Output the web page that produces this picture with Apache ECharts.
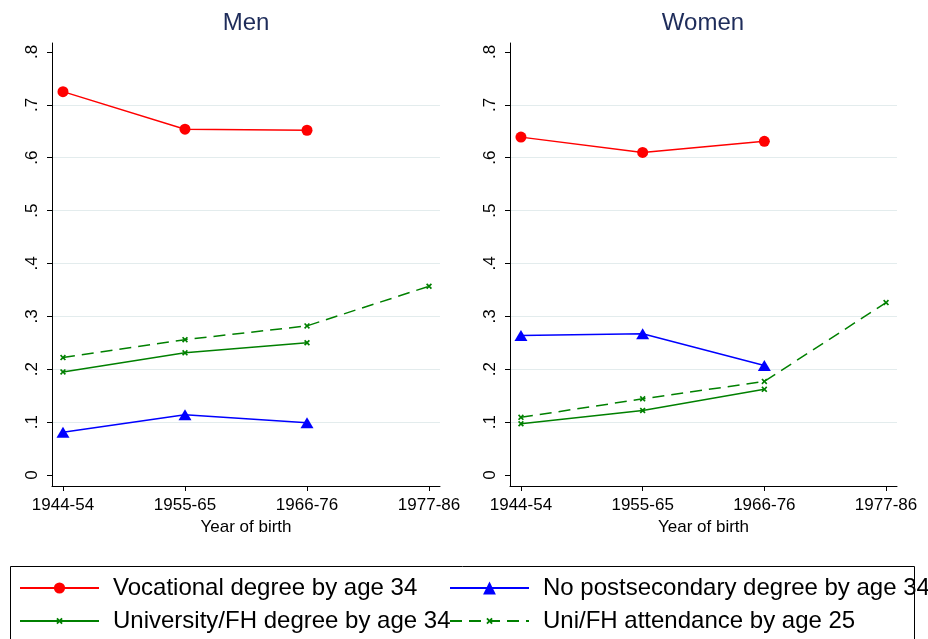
<!DOCTYPE html>
<html>
<head>
<meta charset="utf-8">
<script src="https://cdn.jsdelivr.net/npm/echarts@6/dist/echarts.min.js"></script>
<style>
html,body{margin:0;padding:0;background:#fff;}
#chart{width:928px;height:639px;}
</style>
</head>
<body>
<div id="chart"></div>
<script>
// ---- data ----
const categories = ['1944-54', '1955-65', '1966-76', '1977-86'];
const seriesNames = ['Vocational degree by age 34', 'No postsecondary degree by age 34', 'University/FH degree by age 34', 'Uni/FH attendance by age 25'];
const panelTitles = ['Men', 'Women'];
const xTitle = 'Year of birth';

const menVocational = [0.725, 0.654, 0.652];
const menNoPostsec = [0.081, 0.114, 0.099];
const menUniDegree = [0.195, 0.231, 0.250];
const menUniAttend = [0.222, 0.256, 0.282, 0.357];

const womenVocational = [0.639, 0.610, 0.631];
const womenNoPostsec = [0.264, 0.267, 0.207];
const womenUniDegree = [0.097, 0.122, 0.162];
const womenUniAttend = [0.109, 0.144, 0.177, 0.326];

const xTickValues = [0, 1, 2, 3];
const yTickValues = [0, 0.1, 0.2, 0.3, 0.4, 0.5, 0.6, 0.7, 0.8];
const yGridValues = [0.1, 0.2, 0.3, 0.4, 0.5, 0.6, 0.7];

// ---- styling ----
const FONT = "'Liberation Sans', Arial, sans-serif";
const RED = '#ff0000', BLUE = '#0000ff', GREEN = '#008000';
const XMARK = 'path://M0,2 L2,0 L5,3 L8,0 L10,2 L7,5 L10,8 L8,10 L5,7 L2,10 L0,8 L3,5 Z';

const styles = [
  {color: RED, symbol: 'circle', symbolSize: 11, type: 'solid'},
  {color: BLUE, symbol: 'triangle', symbolSize: [13, 11], type: 'solid'},
  {color: GREEN, symbol: XMARK, symbolSize: 6, type: 'solid'},
  {color: GREEN, symbol: XMARK, symbolSize: 6, type: [12, 7]}
];

const panels = [
  [menVocational, menNoPostsec, menUniDegree, menUniAttend],
  [womenVocational, womenNoPostsec, womenUniDegree, womenUniAttend]
];

const grids = [
  {left: 52, right: 488, top: 43, bottom: 153},
  {left: 510, right: 31, top: 43, bottom: 153}
];

const xAxes = [], yAxes = [], series = [];
grids.forEach((g, gi) => {
  xAxes.push({
    type: 'value', gridIndex: gi, min: -0.09, max: 3.09,
    axisLine: {show: true, onZero: false, lineStyle: {color: '#000', width: 1}},
    axisTick: {show: true, length: 5, customValues: xTickValues, lineStyle: {color: '#000'}},
    axisLabel: {show: true, customValues: xTickValues, margin: 11, color: '#000', fontSize: 17, fontFamily: FONT,
      formatter: v => categories[Math.round(v)]},
    splitLine: {show: false},
    name: xTitle, nameLocation: 'middle', nameGap: 28,
    nameTextStyle: {color: '#000', fontSize: 17, fontFamily: FONT}
  });
  yAxes.push({
    type: 'value', gridIndex: gi, min: -0.0208, max: 0.817, position: 'left',
    axisLine: {show: true, onZero: false, lineStyle: {color: '#000', width: 1}},
    axisTick: {show: true, length: 5, customValues: yTickValues, lineStyle: {color: '#000'}},
    axisLabel: {show: true, customValues: yTickValues, rotate: 90, margin: 11, color: '#000', fontSize: 17, fontFamily: FONT,
      formatter: v => (v === 0 ? '0' : String(Math.round(v * 10) / 10).replace(/^0/, ''))},
    splitLine: {show: false}
  });
  yAxes.push({
    type: 'value', gridIndex: gi, min: -0.0208, max: 0.817, position: 'left',
    axisLine: {show: false},
    axisTick: {show: false, customValues: yGridValues},
    axisLabel: {show: false},
    splitLine: {show: true, lineStyle: {color: '#e3eced', width: 1}}
  });
  panels[gi].forEach((vals, si) => {
    const st = styles[si];
    series.push({
      type: 'line', name: seriesNames[si], xAxisIndex: gi, yAxisIndex: gi * 2,
      data: vals.map((v, i) => [i, v]),
      symbol: st.symbol, symbolSize: st.symbolSize, showSymbol: true, showAllSymbol: true,
      lineStyle: {color: st.color, width: 1.5, type: st.type},
      itemStyle: {color: st.color},
      emphasis: {disabled: true}, silent: true, z: 3
    });
  });
});

const legendPos = [
  {left: 19, cy: 587, h: 14},
  {left: 449, cy: 587, h: 16},
  {left: 19, cy: 620, h: 8},
  {left: 449, cy: 620, h: 8}
];
const legends = seriesNames.map((n, i) => ({
  data: [n], orient: 'horizontal', left: legendPos[i].left, top: legendPos[i].cy - 11,
  itemWidth: 79, itemHeight: legendPos[i].h, padding: 0, selectedMode: false,
  textStyle: {color: '#000', fontSize: 24, fontFamily: FONT, padding: [0, 0, 0, 9]}
}));

const chart = echarts.init(document.getElementById('chart'), null, {renderer: 'canvas'});
chart.setOption({
  animation: false,
  backgroundColor: '#fff',
  title: panelTitles.map((t, i) => ({
    text: t, left: i === 0 ? 246 : 703, top: 11, textAlign: 'center', padding: 0,
    textStyle: {color: '#1e2c5a', fontSize: 24, fontWeight: 'normal', fontFamily: FONT}
  })),
  grid: grids,
  xAxis: xAxes,
  yAxis: yAxes,
  legend: legends,
  graphic: [{
    type: 'rect', left: 8, top: 564, shape: {x: 0, y: 0, width: 904, height: 110},
    style: {fill: 'none', stroke: '#000', lineWidth: 1}, silent: true, z: 0
  }],
  series: series
});
</script>
</body>
</html>
